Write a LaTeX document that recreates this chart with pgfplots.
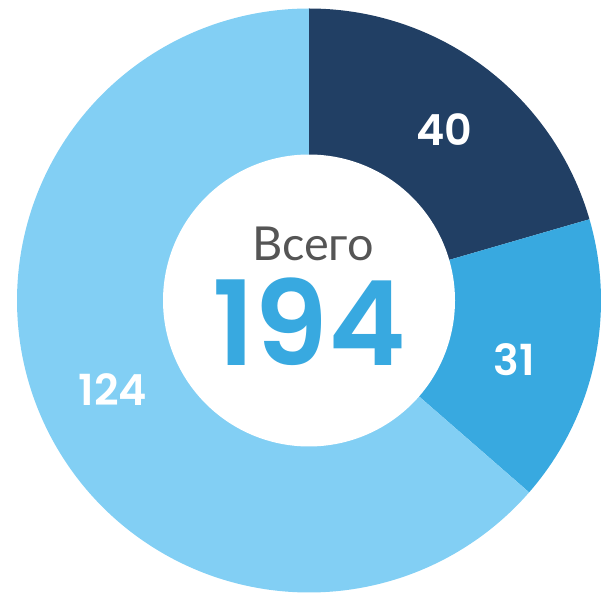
\documentclass[border=0pt]{standalone}
\usepackage{pgfplots}
\usepackage{pgfplotstable}
\pgfplotsset{compat=1.18}
\usepackage{fontspec}
\setmainfont{Lato}
\newfontfamily\numfont{Poppins SemiBold}
\definecolor{cdark}{HTML}{213F64}
\definecolor{cmid}{HTML}{38A9E0}
\definecolor{clight}{HTML}{82CFF4}
\definecolor{cgray}{HTML}{555555}
\pgfplotstableread{
label value
A 40
B 31
C 124
}\datatable
\pgfplotstablegetelem{0}{value}\of\datatable \let\va\pgfplotsretval
\pgfplotstablegetelem{1}{value}\of\datatable \let\vb\pgfplotsretval
\pgfplotstablegetelem{2}{value}\of\datatable \let\vc\pgfplotsretval
\pgfmathsetmacro\tot{\va+\vb+\vc}
\pgfmathsetmacro\aA{90}
\pgfmathsetmacro\aB{90-\va/\tot*360}
\pgfmathsetmacro\aC{\aB-\vb/\tot*360}
\pgfmathsetmacro\aD{\aC-\vc/\tot*360}
\begin{document}
\begin{tikzpicture}
\begin{axis}[
  width=601bp, height=594bp, scale only axis,
  xmin=0, xmax=601, ymin=0, ymax=594,
  hide axis, clip=true,
]
\addplot[fill=cdark, draw=none, domain=\aB:\aA, samples=120, variable=\t]
  ({309+292*cos(\t)},{293.5+292*sin(\t)}) -- (axis cs:309,293.5) -- cycle;
\addplot[fill=cmid, draw=none, domain=\aC:\aB, samples=120, variable=\t]
  ({309+292*cos(\t)},{293.5+292*sin(\t)}) -- (axis cs:309,293.5) -- cycle;
\addplot[fill=clight, draw=none, domain=\aD:\aC, samples=240, variable=\t]
  ({309+292*cos(\t)},{293.5+292*sin(\t)}) -- (axis cs:309,293.5) -- cycle;
\addplot[fill=white, draw=none, domain=0:360, samples=240, variable=\t]
  ({309+146*cos(\t)},{293.5+146*sin(\t)}) -- cycle;
\node[text=white, font=\numfont\fontsize{43}{50}\selectfont] at (axis cs:444,464) {40};
\node[text=white, font=\numfont\fontsize{43}{50}\selectfont] at (axis cs:514,234) {31};
\node[text=white, font=\numfont\fontsize{43}{50}\selectfont] at (axis cs:113,204) {124};
\node[text=cgray, font=\fontsize{47}{52}\selectfont] at (axis cs:313,350) {Всего};
\node[text=cmid, font=\numfont\fontsize{118}{130}\selectfont] at (axis cs:309,272) {194};
\end{axis}
\pgfresetboundingbox
\path (current axis.south west) rectangle (current axis.north east);
\end{tikzpicture}
\end{document}
